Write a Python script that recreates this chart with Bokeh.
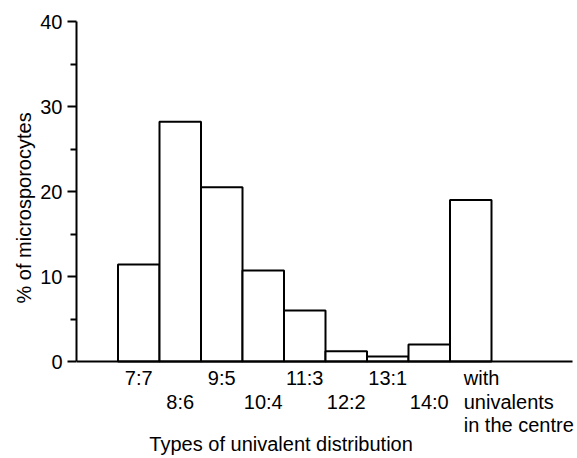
from bokeh.plotting import figure
from bokeh.models import FixedTicker, ColumnDataSource, Range1d, Title
from bokeh.core.properties import value
from bokeh.embed import file_html
from bokeh.resources import INLINE

# ---- data ----
categories = ["7:7", "8:6", "9:5", "10:4", "11:3", "12:2", "13:1", "14:0",
              "with\nunivalents\nin the centre"]
percent = [11.4, 28.2, 20.5, 10.7, 6.0, 1.2, 0.6, 2.0, 19.0]
y_ticks = [0, 10, 20, 30, 40]
y_minor = [5, 15, 25, 35]
x_title = "Types of univalent distribution"
y_title = "% of microsporocytes"

FONT = "Liberation Sans"
FS = "20px"

# layout: frame 501 x 437 px, 41.5 px per bar, 8.5 px per y unit
PX_X = 41.5
PX_Y = 8.5
FRAME_W = 501
FRAME_H = 437
y_top = 40
y_bottom = y_top - FRAME_H / PX_Y
x_right = FRAME_W / PX_X

p = figure(width=577, height=458, output_backend="svg", toolbar_location=None,
           x_range=Range1d(0, x_right), y_range=Range1d(y_bottom, y_top),
           x_axis_location=None, min_border_left=76, min_border_right=0,
           min_border_top=21, min_border_bottom=0)
p.outline_line_color = None
p.grid.visible = False
p.background_fill_color = "white"

# y axis
ax = p.yaxis[0]
ax.ticker = FixedTicker(ticks=y_ticks, minor_ticks=y_minor)
ax.bounds = (0, 40)
ax.axis_line_width = 2
ax.axis_line_color = "black"
ax.major_tick_line_width = 2
ax.major_tick_line_color = "black"
ax.major_tick_out = 9
ax.major_tick_in = 0
ax.minor_tick_line_width = 2
ax.minor_tick_line_color = "black"
ax.minor_tick_out = 6
ax.minor_tick_in = 0
ax.major_label_standoff = 5
ax.major_label_text_font = FONT
ax.major_label_text_font_size = FS
ax.major_label_text_color = "black"

# y title beside the axis, positioned along the 0-40 span
p.add_layout(Title(text=y_title, align="left", offset=155, standoff=5,
                   text_font=FONT, text_font_size="20px",
                   text_font_style="normal", text_color="black"), "left")

# bars
left = [i + 1 for i in range(len(categories))]
right = [i + 2 for i in range(len(categories))]
p.quad(left=left, right=right, bottom=0, top=percent,
       fill_color="white", line_color="black", line_width=2)

# baseline
p.segment(x0=[0], y0=[0], x1=[x_right - 0.12], y1=[0], line_color="black", line_width=2)

# category labels (staggered rows)
row_px = [16, 40, 63]
tx, ty, tt, ta = [], [], [], []
for i, c in enumerate(categories):
    lines = c.split("\n")
    if len(lines) == 1:
        tx.append(i + 1.5)
        ty.append(-row_px[i % 2] / PX_Y)
        tt.append(c)
        ta.append("center")
    else:
        for r, ln in enumerate(lines):
            tx.append(i + 1.5 - 7 / PX_X)
            ty.append(-row_px[r] / PX_Y)
            tt.append(ln)
            ta.append("left")
src = ColumnDataSource(dict(x=tx, y=ty, text=tt, align=ta))
p.text(x="x", y="y", text="text", source=src, text_align="align",
       text_baseline="alphabetic", text_font=value(FONT), text_font_size=FS,
       text_color="black")

# x title
p.text(x=[4.93], y=[-82 / PX_Y], text=[x_title], text_align="center",
       text_baseline="alphabetic", text_font=value(FONT), text_font_size=FS,
       text_color="black")

open("out.html", "w").write(file_html(p, INLINE))
